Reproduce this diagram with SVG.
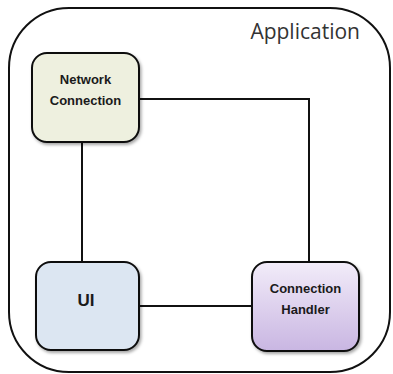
<svg xmlns="http://www.w3.org/2000/svg" width="393" height="374" viewBox="0 0 393 374">
<defs>
<linearGradient id="gCH" x1="0" y1="0" x2="0" y2="1">
<stop offset="0" stop-color="#f2ecf9"/>
<stop offset="1" stop-color="#c9b6e2"/>
</linearGradient>
<filter id="sh" x="-10%" y="-10%" width="130%" height="130%">
<feDropShadow dx="1.5" dy="2" stdDeviation="1.5" flood-color="#000" flood-opacity="0.35"/>
</filter>
</defs>
<style>
.node{stroke:#111;stroke-width:2;}
.lbl{font-family:"Liberation Sans",Arial,sans-serif;font-weight:bold;fill:#1a1a1a;text-anchor:middle;}
.conn{fill:none;stroke:#111;stroke-width:2;}
</style>
<rect width="393" height="374" fill="#fff"/>
<g id="application">
<rect x="9" y="8" width="381" height="364" rx="60" ry="60" fill="none" stroke="#111" stroke-width="2"/>
<text x="360" y="39" font-family="'Open Sans','Liberation Sans',sans-serif" font-size="21" fill="#333" text-anchor="end">Application</text>
</g>
<g id="connectors">
<path class="conn" d="M139 99 H309 V262"/>
<path class="conn" d="M82 142 V262"/>
<path class="conn" d="M139 306 H252"/>
</g>
<g id="network-connection">
<rect class="node" x="32" y="53" width="107" height="89" rx="15" fill="#eef0df" filter="url(#sh)"/>
<text class="lbl" x="85.5" y="84" font-size="13">Network</text>
<text class="lbl" x="85.5" y="105" font-size="13">Connection</text>
</g>
<g id="ui">
<rect class="node" x="36" y="262" width="103" height="88" rx="15" fill="#dce6f2" filter="url(#sh)"/>
<text class="lbl" x="86" y="306" font-size="17">UI</text>
</g>
<g id="connection-handler">
<rect class="node" x="252" y="262" width="107" height="89" rx="15" fill="url(#gCH)" filter="url(#sh)"/>
<text class="lbl" x="305.5" y="293" font-size="13">Connection</text>
<text class="lbl" x="305.5" y="314" font-size="13">Handler</text>
</g>
</svg>
